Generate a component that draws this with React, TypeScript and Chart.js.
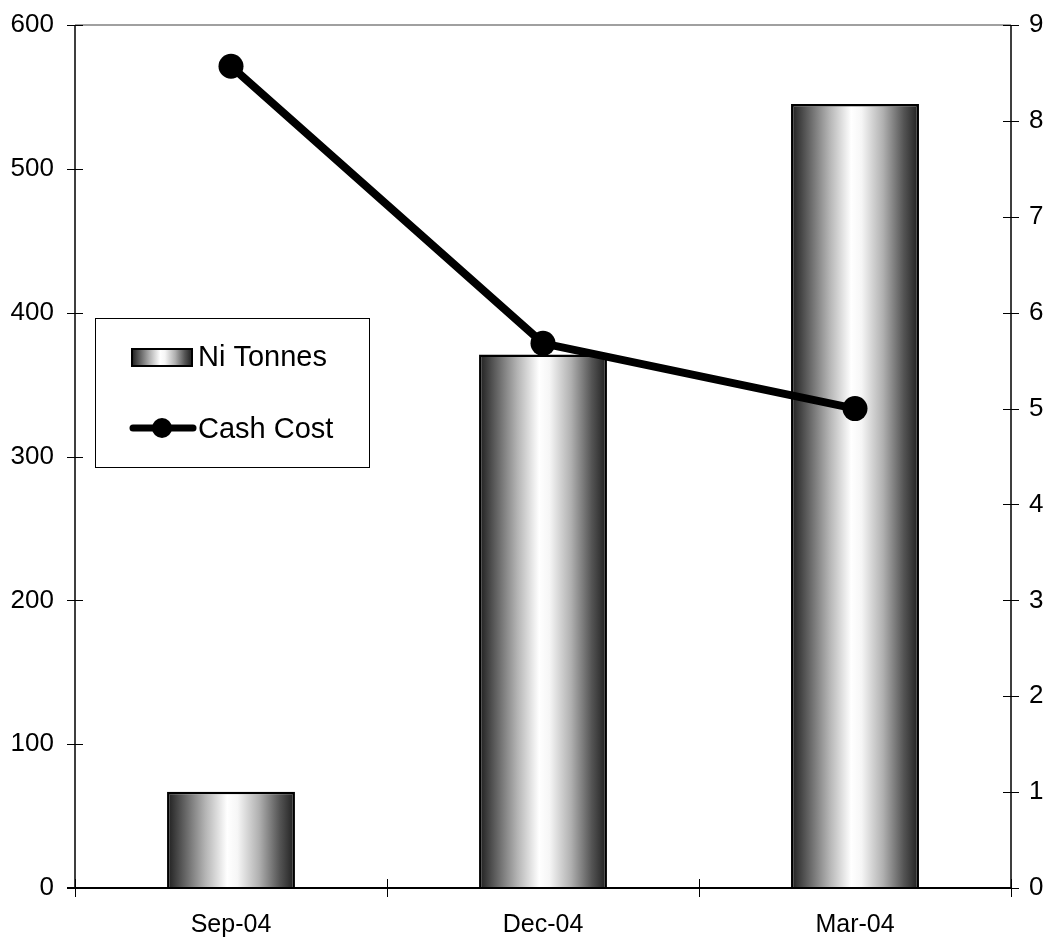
import React, { useEffect, useRef } from 'react';
import { Chart, registerables } from 'chart.js';

Chart.register(...registerables);

const categories = ['Sep-04', 'Dec-04', 'Mar-04'];
const niTonnes = [67, 371, 545];
const cashCost = [8.57, 5.68, 5.0];
const leftAxis = { min: 0, max: 600, step: 100 };
const rightAxis = { min: 0, max: 9, step: 1 };
const legendLabels = ['Ni Tonnes', 'Cash Cost'];

const FONT = '"Liberation Sans", Arial, Helvetica, sans-serif';
const BAR_PCT = 0.41;

function cylinder(ctx: CanvasRenderingContext2D, x0: number, x1: number) {
  const g = ctx.createLinearGradient(x0, 0, x1, 0);
  g.addColorStop(0, '#1e1e1e');
  g.addColorStop(0.12, '#5a5a5a');
  g.addColorStop(0.3, '#b4b4b4');
  g.addColorStop(0.47, '#ffffff');
  g.addColorStop(0.55, '#f6f6f6');
  g.addColorStop(0.72, '#b0b0b0');
  g.addColorStop(0.88, '#555555');
  g.addColorStop(1, '#1e1e1e');
  return g;
}

function noPad(s: any) {
  s.paddingTop = 0;
  s.paddingBottom = 0;
  s.paddingLeft = 0;
  s.paddingRight = 0;
}

const framePlugin = {
  id: 'framePlugin',
  beforeDatasetsDraw(chart: any) {
    const { ctx, chartArea } = chart;
    const { left, right, top, bottom } = chartArea;
    ctx.save();
    ctx.strokeStyle = '#808080';
    ctx.lineWidth = 1.5;
    ctx.beginPath();
    ctx.moveTo(left, top);
    ctx.lineTo(right, top);
    ctx.stroke();

    ctx.strokeStyle = '#000';
    ctx.lineWidth = 1.5;
    ctx.beginPath();
    ctx.moveTo(left, top);
    ctx.lineTo(left, bottom);
    ctx.moveTo(right, top);
    ctx.lineTo(right, bottom);
    ctx.stroke();

    ctx.lineWidth = 1;
    ctx.beginPath();
    const ys = chart.scales.y;
    for (let v = leftAxis.min; v <= leftAxis.max; v += leftAxis.step) {
      const y = Math.round(ys.getPixelForValue(v)) + 0.5;
      ctx.moveTo(left - 8, y);
      ctx.lineTo(left + 8, y);
    }
    const y1 = chart.scales.y1;
    for (let v = rightAxis.min; v <= rightAxis.max; v += rightAxis.step) {
      const y = Math.round(y1.getPixelForValue(v)) + 0.5;
      ctx.moveTo(right - 8, y);
      ctx.lineTo(right + 8, y);
    }
    const n = categories.length;
    for (let i = 0; i <= n; i++) {
      const x = Math.round(left + (i * (right - left)) / n) + 0.5;
      ctx.moveTo(x, bottom - 9);
      ctx.lineTo(x, bottom + 9);
    }
    ctx.stroke();
    ctx.restore();
  },
  afterDatasetsDraw(chart: any) {
    const { ctx, chartArea } = chart;
    const { left, right, bottom } = chartArea;
    ctx.save();
    ctx.strokeStyle = '#000';
    ctx.lineWidth = 2;
    ctx.beginPath();
    ctx.moveTo(left - 8, bottom);
    ctx.lineTo(right, bottom);
    ctx.stroke();

    // legend
    const bx = 95.5, by = 318.5, bw = 274, bh = 149;
    ctx.fillStyle = '#fff';
    ctx.fillRect(bx, by, bw, bh);
    ctx.strokeStyle = '#000';
    ctx.lineWidth = 1;
    ctx.strokeRect(bx, by, bw, bh);

    // bar swatch
    ctx.fillStyle = cylinder(ctx, 132, 192);
    ctx.fillRect(132, 349, 60, 17);
    ctx.lineWidth = 2;
    ctx.strokeRect(132, 349, 60, 17);

    // line swatch
    ctx.lineWidth = 7;
    ctx.lineCap = 'round';
    ctx.beginPath();
    ctx.moveTo(133, 428);
    ctx.lineTo(193, 428);
    ctx.stroke();
    ctx.fillStyle = '#000';
    ctx.beginPath();
    ctx.arc(162, 428, 10, 0, Math.PI * 2);
    ctx.fill();

    ctx.font = `29px ${FONT}`;
    ctx.textAlign = 'left';
    ctx.textBaseline = 'alphabetic';
    ctx.fillText(legendLabels[0], 198, 366);
    ctx.fillText(legendLabels[1], 198, 438);
    ctx.restore();
  },
};

export default function App() {
  const ref = useRef<HTMLCanvasElement | null>(null);
  useEffect(() => {
    if (!ref.current) return;
    const chart = new Chart(ref.current, {
      type: 'bar',
      data: {
        labels: categories,
        datasets: [
          {
            type: 'line',
            label: legendLabels[1],
            data: cashCost,
            yAxisID: 'y1',
            borderColor: '#000',
            borderWidth: 8,
            pointRadius: 12.5,
            pointHoverRadius: 12.5,
            pointBackgroundColor: '#000',
            pointBorderColor: '#000',
            pointBorderWidth: 0,
            tension: 0,
            order: 1,
          } as any,
          {
            type: 'bar',
            label: legendLabels[0],
            data: niTonnes,
            yAxisID: 'y',
            borderColor: '#000',
            borderWidth: 2.5,
            borderSkipped: 'bottom',
            categoryPercentage: 1,
            barPercentage: BAR_PCT,
            backgroundColor: (c: any) => {
              const chart = c.chart;
              const xs = chart.scales && chart.scales.x;
              if (!xs || !chart.chartArea || c.dataIndex === undefined) return '#999';
              const cx = xs.getPixelForValue(c.dataIndex);
              const w = (xs.width / categories.length) * BAR_PCT;
              return cylinder(chart.ctx, cx - w / 2, cx + w / 2);
            },
            order: 2,
          } as any,
        ],
      },
      options: {
        animation: false,
        responsive: true,
        maintainAspectRatio: false,
        layout: { padding: { top: 25, left: 0, right: 0, bottom: 0 } },
        plugins: {
          legend: { display: false },
          tooltip: { enabled: false },
          title: { display: false },
        },
        scales: {
          x: {
            type: 'category',
            offset: true,
            grid: { display: false, drawTicks: false },
            border: { display: false },
            ticks: { color: '#000', font: { family: FONT, size: 25 }, padding: 22, maxRotation: 0 },
            afterFit: (s: any) => { s.height = 54; noPad(s); },
          },
          y: {
            position: 'left',
            min: leftAxis.min,
            max: leftAxis.max,
            ticks: { stepSize: leftAxis.step, color: '#000', font: { family: FONT, size: 26 }, padding: 21 },
            grid: { display: false, drawTicks: false },
            border: { display: false },
            afterFit: (s: any) => { s.width = 75; noPad(s); },
          },
          y1: {
            position: 'right',
            min: rightAxis.min,
            max: rightAxis.max,
            ticks: { stepSize: rightAxis.step, color: '#000', font: { family: FONT, size: 26 }, padding: 18 },
            grid: { display: false, drawTicks: false },
            border: { display: false },
            afterFit: (s: any) => { s.width = 39; noPad(s); },
          },
        },
      } as any,
      plugins: [framePlugin],
    });
    return () => chart.destroy();
  }, []);
  return (
    <div style={{ position: 'absolute', left: 0, top: 0, width: 1050, height: 942, background: '#fff' }}>
      <canvas ref={ref} />
    </div>
  );
}
